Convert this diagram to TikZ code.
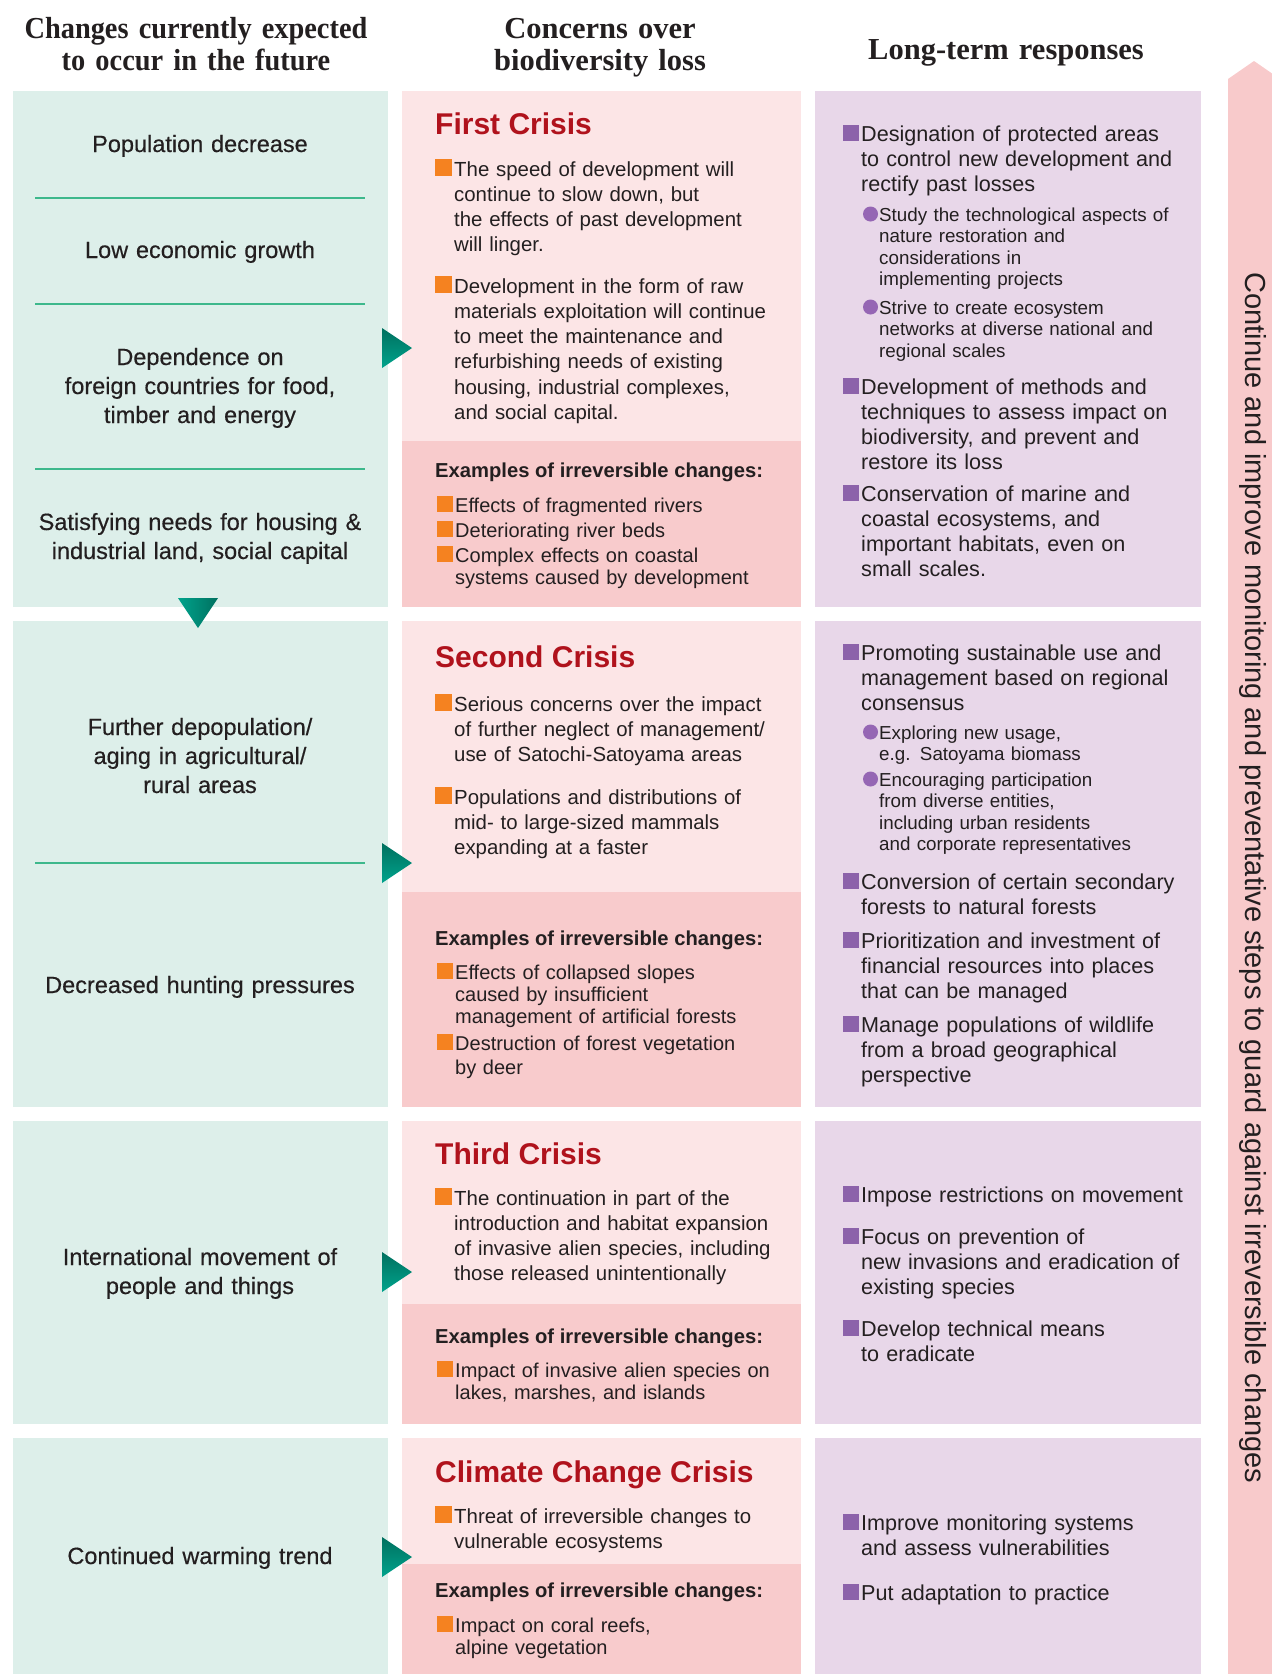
\documentclass[tikz,border=0pt]{standalone}
\usepackage{fontspec}
\setmainfont{Liberation Sans}
\newfontfamily\headfont{Liberation Serif}
\newfontfamily\headnarrow[FakeStretch=0.93]{Liberation Serif}
\newfontfamily\changefont[FakeBold=0.4]{Liberation Sans}
\usepackage{tikz}
\usetikzlibrary{positioning, calc}
\definecolor{changeBg}{HTML}{DDEFEA}
\definecolor{crisisBg}{HTML}{FCE5E6}
\definecolor{exampleBg}{HTML}{F8CBCC}
\definecolor{responseBg}{HTML}{E8D7E9}
\definecolor{arrowCol}{HTML}{F8CACB}
\definecolor{crisisRed}{HTML}{B0121C}
\definecolor{orangeBul}{HTML}{F58220}
\definecolor{purpleBul}{HTML}{8C62AA}
\definecolor{purpleDot}{HTML}{9566B4}
\definecolor{ruleGreen}{HTML}{3DB88C}
\definecolor{tealDark}{HTML}{00705F}
\definecolor{tealLight}{HTML}{00A38C}
\definecolor{inkCol}{HTML}{231F20}

\begin{document}
\begin{tikzpicture}[x=1pt, y=-1pt,
    every node/.style={inner sep=0pt, text=inkCol},
    colhead/.style={font=\headfont\bfseries\fontsize{30.5}{32}\selectfont, text width=420pt, align=center, anchor=base},
    change/.style={font=\changefont\fontsize{23.5}{29}\selectfont, text width=370pt, align=center, anchor=base},
    crisis/.style={font=\bfseries\fontsize{30}{32}\selectfont, text=crisisRed, anchor=base west},
    exhead/.style={font=\bfseries\fontsize{20.2}{24}\selectfont, anchor=base west},
    concern/.style={font=\fontsize{20.4}{25.3}\selectfont, text width=360pt, align=left, anchor=base west},
    response/.style={font=\fontsize{21.6}{25.2}\selectfont, text width=360pt, align=left, anchor=base west},
    example/.style={font=\fontsize{20}{22.3}\selectfont, text width=360pt, align=left, anchor=base west},
    detail/.style={font=\fontsize{18.8}{21.6}\selectfont, text width=360pt, align=left, anchor=base west},
    pointer/.style={top color=tealDark, bottom color=tealLight}]
  \useasboundingbox (0,0) rectangle (1272,1674);

  % column headings
  \node[colhead, font=\headnarrow\bfseries\fontsize{30.5}{32}\selectfont] (headChange) at (196,38) {Changes currently expected\\to occur in the future};
  \node[colhead] (headConcern) at (600,38) {Concerns over\\biodiversity loss};
  \node[colhead] (headResponse) at (1006,59) {Long-term responses};

  % panels, one row per crisis
  \foreach \ya/\yb/\yc in {91/441/607, 621/892/1107, 1121/1304/1424, 1438/1564/1674}{
    \fill[changeBg] (13,\ya) rectangle (388,\yc);
    \fill[crisisBg] (402,\ya) rectangle (801,\yb);
    \fill[exampleBg] (402,\yb) rectangle (801,\yc);
    \fill[responseBg] (815,\ya) rectangle (1201,\yc);
  }

  % long arrow on the right
  \fill[arrowCol] (1228,1674) -- (1228,79) -- (1254,61) -- (1280,79) -- (1280,1674) -- cycle;
  \node[rotate=-90, anchor=base, font=\fontsize{29}{32}\selectfont] (motto) at (1245,878)
    {Continue and improve monitoring and preventative steps to guard against irreversible changes};

  % expected changes
  \foreach \y in {198, 304, 469, 863}
    \draw[ruleGreen, line width=1.5pt] (35,\y) -- (365,\y);
  \foreach \y/\t [count=\i] in {
      152/Population decrease,
      258/Low economic growth,
      365/{Dependence on\\foreign countries for food,\\timber and energy},
      530/{Satisfying needs for housing \&\\industrial land, social capital},
      735/{Further depopulation/\\aging in agricultural/\\rural areas},
      993/Decreased hunting pressures,
      1265/{International movement of\\people and things},
      1564/Continued warming trend}
    \node[change] (change\i) at (200,\y) {\t};

  % teal pointers
  \foreach \y in {348, 863, 1272, 1557}
    \shade[pointer] (382,\y-20) -- (412,\y) -- (382,\y+20) -- cycle;
  \shade[left color=tealLight, right color=tealDark] (178,598) -- (218,598) -- (198,628) -- cycle;

  % concerns
  \foreach \y/\t [count=\i] in {134/First Crisis, 667/Second Crisis, 1164/Third Crisis, 1482/Climate Change Crisis}
    \node[crisis] (crisis\i) at (435,\y) {\t};
  \foreach \y [count=\i] in {477, 945, 1343, 1597}
    \node[exhead] (examples\i) at (435,\y) {Examples of irreversible changes:};

  \foreach \y/\t [count=\i] in {
      176/{The speed of development will\\continue to slow down, but\\the effects of past development\\will linger.},
      293/{Development in the form of raw\\materials exploitation will continue\\to meet the maintenance and\\refurbishing needs of existing\\housing, industrial complexes,\\and social capital.},
      711/{Serious concerns over the impact\\of further neglect of management/\\use of Satochi-Satoyama areas},
      804/{Populations and distributions of\\mid- to large-sized mammals\\expanding at a faster},
      1205/{The continuation in part of the\\introduction and habitat expansion\\of invasive alien species, including\\those released unintentionally},
      1523/{Threat of irreversible changes to\\vulnerable ecosystems}}{
    \fill[orangeBul] (435,\y) rectangle ++(17,-17);
    \node[concern] (concern\i) at (454,\y) {\t};
  }

  \foreach \y/\t [count=\i] in {
      512/Effects of fragmented rivers,
      537/Deteriorating river beds,
      562/{Complex effects on coastal\\systems caused by development},
      979/{Effects of collapsed slopes\\caused by insufficient\\management of artificial forests},
      1050/{Destruction of forest vegetation\\[2pt]by deer},
      1377/{Impact of invasive alien species on\\lakes, marshes, and islands},
      1632/{Impact on coral reefs,\\alpine vegetation}}{
    \fill[orangeBul] (437,\y) rectangle ++(16,-16);
    \node[example] (example\i) at (455,\y) {\t};
  }

  % responses
  \foreach \y/\t [count=\i] in {
      141/{Designation of protected areas\\to control new development and\\rectify past losses},
      394/{Development of methods and\\techniques to assess impact on\\biodiversity, and prevent and\\restore its loss},
      501/{Conservation of marine and\\coastal ecosystems, and\\important habitats, even on\\small scales.},
      660/{Promoting sustainable use and\\management based on regional\\consensus},
      889/{Conversion of certain secondary\\forests to natural forests},
      948/{Prioritization and investment of\\financial resources into places\\that can be managed},
      1032/{Manage populations of wildlife\\from a broad geographical\\perspective},
      1202/Impose restrictions on movement,
      1244/{Focus on prevention of\\new invasions and eradication of\\existing species},
      1336/{Develop technical means\\to eradicate},
      1530/{Improve monitoring systems\\and assess vulnerabilities},
      1600/Put adaptation to practice}{
    \fill[purpleBul] (843,\y) rectangle ++(16,-16);
    \node[response] (response\i) at (861,\y) {\t};
  }

  \foreach \y/\t [count=\i] in {
      221/{Study the technological aspects of\\nature restoration and\\considerations in\\implementing projects},
      314/{Strive to create ecosystem\\networks at diverse national and\\regional scales},
      739/{Exploring new usage,\\e.g. Satoyama biomass},
      786/{Encouraging participation\\from diverse entities,\\including urban residents\\and corporate representatives}}{
    \fill[purpleDot] (870.5,\y-7) circle (7.5);
    \node[detail] (detail\i) at (879,\y) {\t};
  }
\end{tikzpicture}
\end{document}
